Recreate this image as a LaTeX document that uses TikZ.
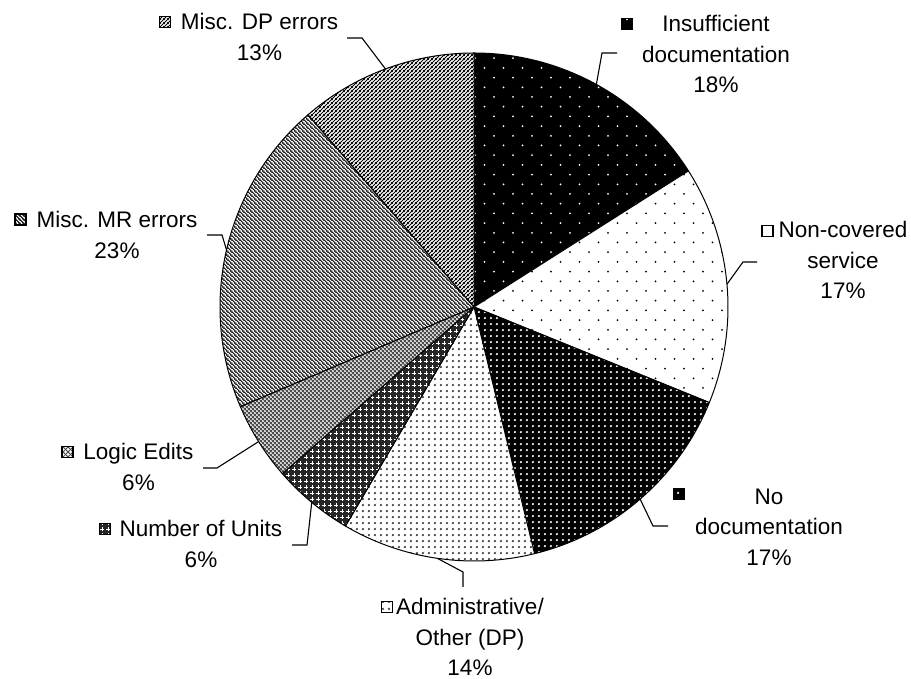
\documentclass[tikz,border=0pt]{standalone}
\usepackage{fontspec}
\setmainfont{Liberation Sans}
\usetikzlibrary{patterns,calc}

\pgfdeclarepatternformonly{sparsedots}{\pgfqpoint{-1.5pt}{-1.5pt}}{\pgfqpoint{17.5pt}{17.9pt}}{\pgfqpoint{19pt}{19.4pt}}{%
  \pgfpathcircle{\pgfqpoint{0pt}{0pt}}{1pt}%
  \pgfpathcircle{\pgfqpoint{9.5pt}{9.7pt}}{1pt}%
  \pgfusepath{fill}}
\pgfdeclarepatternformonly{densedots}{\pgfqpoint{-3.2pt}{-3.2pt}}{\pgfqpoint{3.2pt}{3.2pt}}{\pgfqpoint{6.4pt}{6.4pt}}{%
  \pgfpathcircle{\pgfqpoint{0pt}{0pt}}{1.3pt}\pgfusepath{fill}}
\pgfdeclarepatternformonly{plusgrid}{\pgfqpoint{-3pt}{-3pt}}{\pgfqpoint{3pt}{3pt}}{\pgfqpoint{6pt}{6pt}}{%
  \pgfsetlinewidth{0.9pt}%
  \pgfpathmoveto{\pgfqpoint{-1.7pt}{0pt}}\pgfpathlineto{\pgfqpoint{1.7pt}{0pt}}%
  \pgfpathmoveto{\pgfqpoint{0pt}{-1.7pt}}\pgfpathlineto{\pgfqpoint{0pt}{1.7pt}}%
  \pgfusepath{stroke}}
\pgfdeclarepatternformonly{xhatch}{\pgfqpoint{0pt}{0pt}}{\pgfqpoint{4.4pt}{4.4pt}}{\pgfqpoint{4.4pt}{4.4pt}}{%
  \pgfsetlinewidth{1.1pt}%
  \pgfpathmoveto{\pgfqpoint{-1pt}{-1pt}}\pgfpathlineto{\pgfqpoint{5.4pt}{5.4pt}}%
  \pgfpathmoveto{\pgfqpoint{-1pt}{5.4pt}}\pgfpathlineto{\pgfqpoint{5.4pt}{-1pt}}%
  \pgfusepath{stroke}}
\pgfdeclarepatternformonly{nelines}{\pgfqpoint{0pt}{0pt}}{\pgfqpoint{4pt}{4pt}}{\pgfqpoint{4pt}{4pt}}{%
  \pgfsetlinewidth{1.1pt}%
  \pgfpathmoveto{\pgfqpoint{-1pt}{-1pt}}\pgfpathlineto{\pgfqpoint{5pt}{5pt}}%
  \pgfpathmoveto{\pgfqpoint{-1pt}{3pt}}\pgfpathlineto{\pgfqpoint{1pt}{5pt}}%
  \pgfpathmoveto{\pgfqpoint{3pt}{-1pt}}\pgfpathlineto{\pgfqpoint{5pt}{1pt}}%
  \pgfusepath{stroke}}
\pgfdeclarepatternformonly{nwlines}{\pgfqpoint{0pt}{0pt}}{\pgfqpoint{4pt}{4pt}}{\pgfqpoint{4pt}{4pt}}{%
  \pgfsetlinewidth{1.1pt}%
  \pgfpathmoveto{\pgfqpoint{-1pt}{5pt}}\pgfpathlineto{\pgfqpoint{5pt}{-1pt}}%
  \pgfpathmoveto{\pgfqpoint{-1pt}{1pt}}\pgfpathlineto{\pgfqpoint{1pt}{-1pt}}%
  \pgfpathmoveto{\pgfqpoint{3pt}{5pt}}\pgfpathlineto{\pgfqpoint{5pt}{3pt}}%
  \pgfusepath{stroke}}

\newcommand{\stk}[1]{\begin{tabular}[t]{@{}c@{}}#1\end{tabular}}

\tikzset{
  sInsuf/.style={preaction={fill=black}, pattern=sparsedots, pattern color=white},
  sNoncov/.style={preaction={fill=white}, pattern=sparsedots, pattern color=black},
  sNodoc/.style={preaction={fill=black}, pattern=densedots, pattern color=white},
  sAdmin/.style={preaction={fill=white}, pattern=densedots, pattern color=black!80},
  sUnits/.style={preaction={fill=black!85}, pattern=plusgrid, pattern color=white},
  sLogic/.style={preaction={fill=white}, pattern=xhatch, pattern color=black!70},
  sMR/.style={preaction={fill=white}, pattern=nwlines, pattern color=black},
  sDP/.style={preaction={fill=white}, pattern=nelines, pattern color=black},
  slice/.style={draw=black, line width=1pt, line join=round},
  keybox/.style={draw=black, line width=1.2pt, minimum size=11pt, inner sep=0pt},
  lbl/.style={anchor=base, inner sep=0pt, font=\fontsize{22.5}{30.5}\selectfont},
  leader/.style={draw=black, line width=1.1pt},
}

\begin{document}
\begin{tikzpicture}[x=1pt, y=1pt]
\fill[white] (0,0) rectangle (911,679);
\useasboundingbox (0,0) rectangle (911,679);

\coordinate (c) at (474,372);
\def\R{254}

% slices
\path[sInsuf, slice]  (c) -- ++(90:\R)     arc[start angle=90,     end angle=32.4,   radius=\R] -- cycle;
\path[sNoncov, slice] (c) -- ++(32.4:\R)   arc[start angle=32.4,   end angle=-22.1,  radius=\R] -- cycle;
\path[sNodoc, slice]  (c) -- ++(-22.1:\R)  arc[start angle=-22.1,  end angle=-76.2,  radius=\R] -- cycle;
\path[sAdmin, slice]  (c) -- ++(-76.2:\R)  arc[start angle=-76.2,  end angle=-120.4, radius=\R] -- cycle;
\path[sUnits, slice]  (c) -- ++(-120.4:\R) arc[start angle=-120.4, end angle=-139,   radius=\R] -- cycle;
\path[sLogic, slice]  (c) -- ++(-139:\R)   arc[start angle=-139,   end angle=-156.9, radius=\R] -- cycle;
\path[sMR, slice]     (c) -- ++(-156.9:\R) arc[start angle=-156.9, end angle=-229.2, radius=\R] -- cycle;
\path[sDP, slice]     (c) -- ++(-229.2:\R) arc[start angle=-229.2, end angle=-270,   radius=\R] -- cycle;

% pie edge points for leaders
\coordinate (p1) at ($(c)+(61.2:\R)$);
\coordinate (p2) at ($(c)+(5.15:\R)$);
\coordinate (p3) at ($(c)+(-49.15:\R)$);
\coordinate (p4) at ($(c)+(-98.3:\R)$);
\coordinate (p5) at ($(c)+(-129.7:\R)$);
\coordinate (p6) at ($(c)+(-148:\R)$);
\coordinate (p7) at ($(c)+(-193:\R)$);
\coordinate (p8) at ($(c)+(-249.6:\R)$);

% labels
\node[lbl] (t1) at (716,647.3) {\stk{Insufficient\\documentation\\18\%}};
\node[lbl] (t2) at (843,441)   {\stk{Non-covered\\service\\17\%}};
\node[lbl] (t3) at (769,174.5) {\stk{No\\documentation\\17\%}};
\node[lbl] (t4) at (470,64)    {\stk{Administrative/\\Other (DP)\\14\%}};
\node[lbl] (t5) at (201,142)   {\stk{Number of Units\\6\%}};
\node[lbl] (t6) at (138.5,219) {\stk{Logic Edits\\6\%}};
\node[lbl] (t7) at (117,451)   {\stk{Misc. MR errors\\23\%}};
\node[lbl] (t8) at (259.5,649) {\stk{Misc. DP errors\\13\%}};

% legend keys
\node[keybox, sInsuf]  (k1) at (627,655) {};
\node[keybox, sNoncov] (k2) at (767.5,448) {};
\node[keybox, sNodoc]  (k3) at (679,185) {};
\node[keybox, sAdmin]  (k4) at (387,72) {};
\node[keybox, sUnits]  (k5) at (105,150) {};
\node[keybox, sLogic]  (k6) at (67.5,227) {};
\node[keybox, sMR]     (k7) at (20.5,459.5) {};
\node[keybox, sDP]     (k8) at (165,657) {};

% leader lines
\coordinate (a1) at (617,626); \coordinate (b1) at (602,626);
\coordinate (a2) at (757,417); \coordinate (b2) at (743,417);
\coordinate (a3) at (668,153); \coordinate (b3) at (653,153);
\coordinate (a4) at (463,92);  \coordinate (b4) at (463,107);
\coordinate (a5) at (292,134); \coordinate (b5) at (307,134);
\coordinate (a6) at (203,211); \coordinate (b6) at (217,211);
\coordinate (a7) at (207,444); \coordinate (b7) at (222,444);
\coordinate (a8) at (347,641); \coordinate (b8) at (362,641);
\foreach \i in {1,...,8} {\draw[leader] (a\i) -- (b\i) -- (p\i);}
\end{tikzpicture}
\end{document}
